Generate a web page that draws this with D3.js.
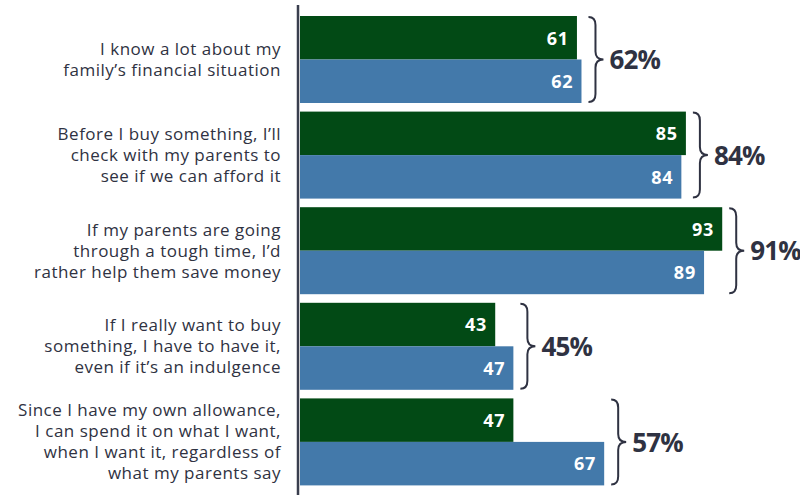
<!DOCTYPE html>
<html>
<head>
<meta charset="utf-8">
<script src="https://cdn.jsdelivr.net/npm/d3@7"></script>
<style>
  html, body { margin: 0; padding: 0; background: #ffffff; }
  svg { display: block; }
</style>
</head>
<body>
<svg id="chart" width="800" height="495"></svg>
<script>
// Statements (each label split into its display lines)
const categories = [
  ["I know a lot about my", "family\u2019s financial situation"],
  ["Before I buy something, I\u2019ll", "check with my parents to", "see if we can afford it"],
  ["If my parents are going", "through a tough time, I\u2019d", "rather help them save money"],
  ["If I really want to buy", "something, I have to have it,", "even if it\u2019s an indulgence"],
  ["Since I have my own allowance,", "I can spend it on what I want,", "when I want it, regardless of", "what my parents say"]
];
const seriesNames = ["green", "blue"];
const greenValues = [61, 85, 93, 43, 47];
const blueValues  = [62, 84, 89, 47, 67];
const totalLabels = ["62%", "84%", "91%", "45%", "57%"];

const colors = { green: "#024a15", blue: "#4379aa" };
const textColor = "#2f3242";
const W = 800, H = 495;
const svg = d3.select("#chart");

const keys = categories.map((c, i) => "c" + i);
const rows = keys.map((k, i) => ({
  key: k, lines: categories[i], total: totalLabels[i],
  values: [
    { series: "green", value: greenValues[i] },
    { series: "blue", value: blueValues[i] }
  ]
}));

const x = d3.scaleLinear().domain([0, 100]).range([300, 754]);
const y = d3.scaleBand().domain(keys).range([11.7, 489.7]).paddingInner(0.09).paddingOuter(0.045);
const ySub = d3.scaleBand().domain(seriesNames).range([0, y.bandwidth()]).padding(0);

const groups = svg.selectAll("g.group").data(rows).join("g")
  .attr("class", "group")
  .attr("transform", d => `translate(0,${y(d.key)})`);

// Bars
groups.selectAll("rect").data(d => d.values).join("rect")
  .attr("x", x(0))
  .attr("y", d => ySub(d.series))
  .attr("width", d => x(d.value) - x(0))
  .attr("height", ySub.bandwidth())
  .attr("fill", d => colors[d.series]);

// Value labels inside bar ends
groups.selectAll("text.val").data(d => d.values).join("text")
  .attr("class", "val")
  .attr("x", d => x(d.value) - 8)
  .attr("y", d => ySub(d.series) + ySub.bandwidth() / 2)
  .attr("dy", "0.38em")
  .attr("text-anchor", "end")
  .attr("fill", "#ffffff")
  .attr("font-family", "Open Sans, sans-serif")
  .attr("font-weight", 700)
  .attr("font-size", 18)
  .attr("letter-spacing", 0.8)
  .text(d => d.value);

// Category labels, right aligned against the axis
const lineH = 21;
groups.append("text")
  .attr("text-anchor", "end")
  .attr("fill", textColor)
  .attr("font-family", "Open Sans, sans-serif")
  .attr("font-size", 17)
  .attr("letter-spacing", 0.5)
  .each(function(d) {
    const t = d3.select(this);
    const n = d.lines.length;
    const cy = y.bandwidth() / 2;
    d.lines.forEach((ln, j) => {
      t.append("tspan")
        .attr("x", 281)
        .attr("y", cy + (j - (n - 1) / 2) * lineH)
        .attr("dy", "0.35em")
        .text(ln);
    });
  });

// Curly brace to the right of each pair of bars
function bracePath(x0, y0, y1) {
  const w = 15, s = x0 + 7, mid = (y0 + y1) / 2, r = 8;
  return `M${x0},${y0} Q${s},${y0} ${s},${y0 + r} L${s},${mid - r} Q${s},${mid} ${x0 + w},${mid}` +
         ` Q${s},${mid} ${s},${mid + r} L${s},${y1 - r} Q${s},${y1} ${x0},${y1}`;
}
groups.append("path")
  .attr("d", d => bracePath(x(d3.max(d.values, v => v.value)) + 7, 1, y.bandwidth() - 1))
  .attr("fill", "none")
  .attr("stroke", textColor)
  .attr("stroke-width", 2);

groups.append("text")
  .attr("x", d => x(d3.max(d.values, v => v.value)) + 28)
  .attr("y", y.bandwidth() / 2)
  .attr("dy", "0.37em")
  .attr("fill", textColor)
  .attr("font-family", "Open Sans, sans-serif")
  .attr("font-weight", 700)
  .attr("font-size", 26)
  .attr("letter-spacing", -0.8)
  .text(d => d.total);

// Vertical axis line
svg.append("line")
  .attr("x1", 298).attr("x2", 298)
  .attr("y1", 5).attr("y2", H)
  .attr("stroke", "#3a3e4e")
  .attr("stroke-width", 2.5);
</script>
</body>
</html>
